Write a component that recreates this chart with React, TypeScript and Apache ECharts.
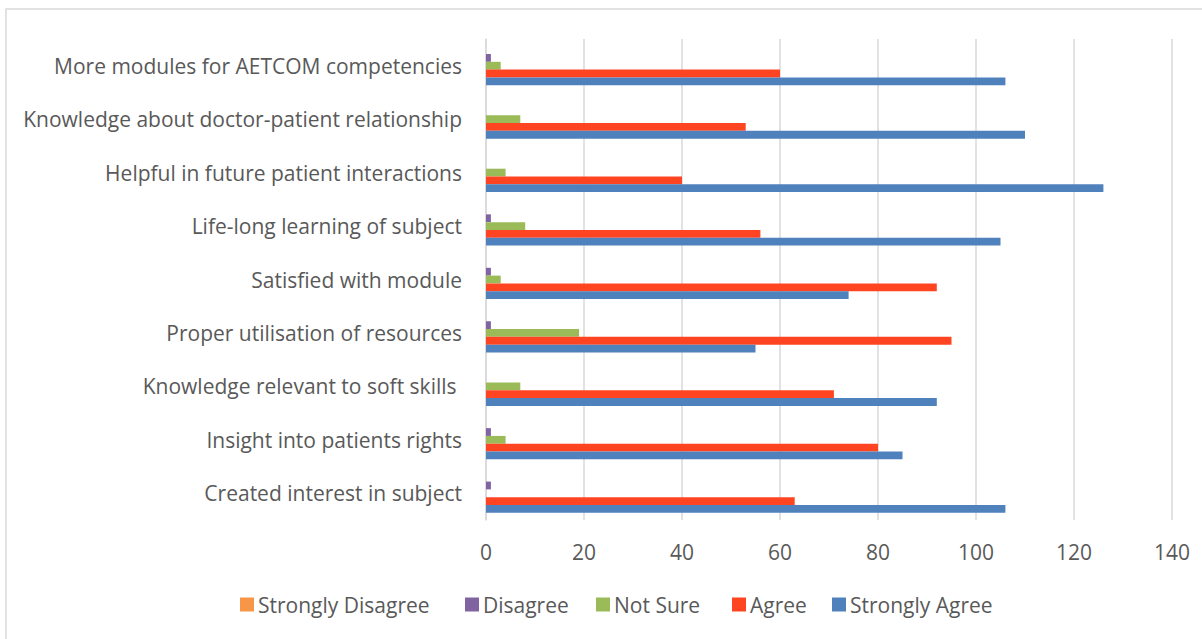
import React, { useEffect, useRef } from "react";
import * as echarts from "echarts";

const categories = [
  "Created interest in subject",
  "Insight into patients rights",
  "Knowledge relevant to soft skills ",
  "Proper utilisation of resources",
  "Satisfied with module",
  "Life-long learning of subject",
  "Helpful in future patient interactions",
  "Knowledge about doctor-patient relationship",
  "More modules for AETCOM competencies",
];

const seriesNames = ["Strongly Disagree", "Disagree", "Not Sure", "Agree", "Strongly Agree"];
const stronglyDisagree = [0, 0, 0, 0, 0, 0, 0, 0, 0];
const disagree = [1, 1, 0, 1, 1, 1, 0, 0, 1];
const notSure = [0, 4, 7, 19, 3, 8, 4, 7, 3];
const agree = [63, 80, 71, 95, 92, 56, 40, 53, 60];
const stronglyAgree = [106, 85, 92, 55, 74, 105, 126, 110, 106];
const xTicks = { min: 0, max: 140, interval: 20 };
const colors = ["#F79646", "#8064A2", "#9BBB59", "#FF4422", "#4F81BD"];
const legendLefts = [240, 465, 596, 732, 832];

const FONT = "Open Sans";
const TEXT = "#595959";
const FS = 21;

export default function App() {
  const ref = useRef<HTMLDivElement>(null);
  useEffect(() => {
    if (!ref.current) return;
    const chart = echarts.init(ref.current, null, { renderer: "svg" });
    const data = [stronglyDisagree, disagree, notSure, agree, stronglyAgree];
    chart.setOption({
      animation: false,
      backgroundColor: "#ffffff",
      textStyle: { fontFamily: FONT },
      graphic: [
        {
          type: "rect",
          shape: { x: 6, y: 9, width: 1300, height: 700 },
          style: { fill: "none", stroke: "#d9d9d9", lineWidth: 1.5 },
          silent: true,
        },
      ],
      grid: { left: 486, right: 30, top: 39, bottom: 119, containLabel: false },
      legend: seriesNames.map((name, i) => ({
        left: legendLefts[i],
        top: 594,
        padding: 0,
        itemWidth: 14,
        itemHeight: 14,
        itemGap: 4,
        icon: "rect",
        selectedMode: false,
        textStyle: { color: TEXT, fontSize: FS, fontFamily: FONT, padding: [0, 0, 0, -1] },
        data: [name],
      })),
      xAxis: {
        type: "value",
        min: xTicks.min,
        max: xTicks.max,
        interval: xTicks.interval,
        axisLine: { show: false },
        axisTick: { show: false },
        splitLine: { lineStyle: { color: "#d9d9d9", width: 1.5 } },
        axisLabel: { color: TEXT, fontSize: FS, fontFamily: FONT, margin: 21 },
      },
      yAxis: {
        type: "category",
        data: categories,
        axisLine: { show: true, lineStyle: { color: "#d9d9d9", width: 1.5 } },
        axisTick: { show: false },
        axisLabel: { color: TEXT, fontSize: FS, fontFamily: FONT, margin: 24 },
      },
      series: seriesNames.map((name, i) => ({
        name,
        type: "bar",
        data: data[i],
        barGap: "0%",
        barCategoryGap: "27%",
        itemStyle: { color: colors[i] },
      })),
    });
    return () => chart.dispose();
  }, []);
  return (
    <div
      ref={ref}
      style={{ position: "fixed", left: 0, top: 0, width: 1202, height: 639 }}
    />
  );
}
